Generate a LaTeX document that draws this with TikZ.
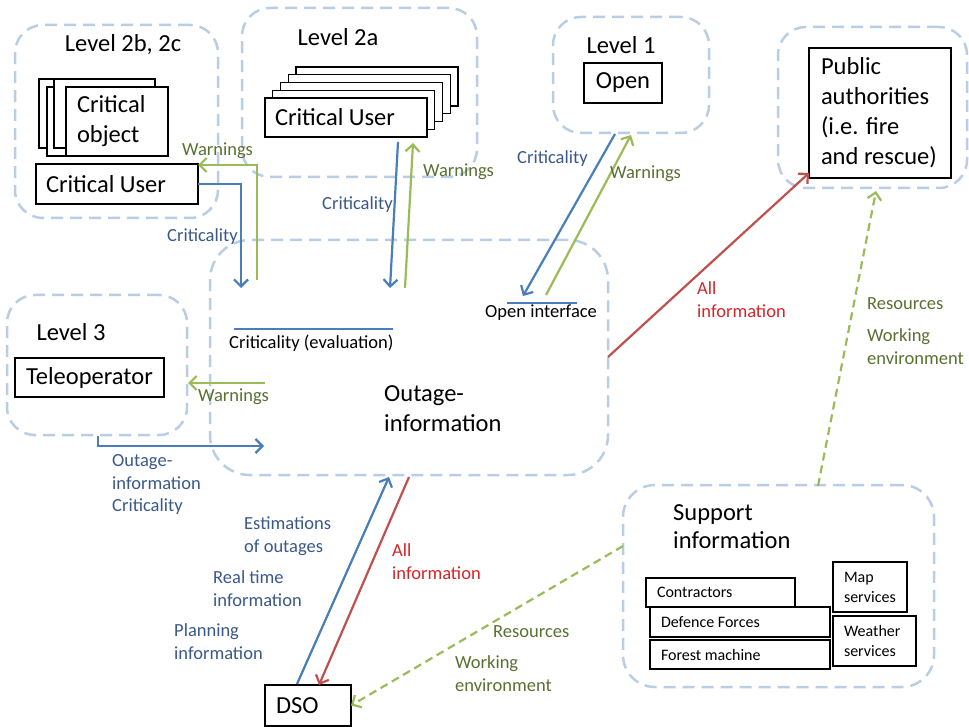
\documentclass[tikz,border=0pt]{standalone}
\usepackage{fontspec}
\setmainfont{Carlito}
\usetikzlibrary{arrows.meta}
\definecolor{dashblue}{RGB}{185,205,229}
\definecolor{lblue}{RGB}{74,126,187}
\definecolor{lgreen}{RGB}{155,187,89}
\definecolor{lred}{RGB}{192,80,77}
\definecolor{tblue}{RGB}{58,88,138}
\definecolor{tgreen}{RGB}{88,112,48}
\definecolor{tred}{RGB}{212,36,40}
\begin{document}
\begin{tikzpicture}[x=1pt,y=-1pt,
 dbox/.style={draw=dashblue, line width=2.5pt, dash pattern=on 12pt off 7pt, rounded corners=28pt, inner sep=0pt},
 blk/.style={draw=black, line width=1.3pt, fill=white, inner sep=0pt, outer sep=0pt},
 bigf/.style={font=\fontsize{24.5}{30}\selectfont},
 labf/.style={font=\fontsize{18.5}{23}\selectfont, inner sep=0pt, align=flush left},
 smallf/.style={font=\fontsize{16}{20}\selectfont},
 txt/.style={inner sep=0pt, align=flush left},
 arr/.style={line width=2.2pt, -{Straight Barb[length=7pt,width=14pt]}},
 barr/.style={arr, draw=lblue},
 garr/.style={arr, draw=lgreen},
 rarr/.style={arr, draw=lred},
 gdash/.style={arr, draw=lgreen, dash pattern=on 8pt off 5pt},
 bluetxt/.style={labf, text=tblue},
 greentxt/.style={labf, text=tgreen},
 redtxt/.style={labf, text=tred},
]
\useasboundingbox (0,0) rectangle (969,727);

% dashed group boxes
\node[dbox, minimum width=203, minimum height=193] (g2b) at (116.5,121.5) {};
\node[dbox, minimum width=235, minimum height=169] (g2a) at (359.5,92.5) {};
\node[dbox, minimum width=156, minimum height=116] (g1) at (631,75) {};
\node[dbox, minimum width=189, minimum height=161] (gpa) at (872.5,107.5) {};
\node[dbox, minimum width=180, minimum height=140] (g3) at (97,365) {};
\node[dbox, minimum width=398, minimum height=235, rounded corners=40pt] (gout) at (409,357.5) {};
\node[dbox, minimum width=311, minimum height=202, rounded corners=32pt] (gsup) at (778.5,586) {};

% group titles
\node[bigf, txt] (t2b) at (123,45) {Level 2b, 2c};
\node[bigf, txt] (t2a) at (338,37) {Level 2a};
\node[bigf, txt] (t1) at (621,45) {Level 1};
\node[bigf, txt] (t3) at (71,332) {Level 3};
\node[bigf, txt, anchor=west] (tout) at (384,409) {Outage-\\information};
\node[bigf, txt, anchor=west, font=\fontsize{24.5}{28}\selectfont] (tsup) at (673,527) {Support\\information};

% Critical object stack
\node[blk, minimum width=103, minimum height=69] (co1) at (90.5,113.5) {};
\node[blk, minimum width=103, minimum height=69] (co2) at (98.5,121.5) {};
\node[blk, minimum width=101, minimum height=69] (co3) at (104.5,113.5) {};
\node[blk, bigf, minimum width=102, minimum height=69, inner xsep=11pt, text width=80pt, align=flush left] (co) at (117,121.5) {Critical\\object};

% Critical User (2b)
\node[blk, bigf, minimum width=162, minimum height=40, inner xsep=10pt, text width=142pt, align=flush left] (cu2b) at (117,184) {Critical User};

% Critical User stack (2a)
\foreach \k in {4,3,2,1}{
  \node[blk, minimum width=162, minimum height=39] (cu2a\k) at ({346+7.75*\k},{117.5-7.75*\k}) {};
}
\node[blk, bigf, minimum width=162, minimum height=39, inner xsep=10pt, text width=142pt, align=flush left] (cu2a) at (346,117.5) {Critical User};

% Open
\node[blk, bigf, minimum width=78, minimum height=40] (open) at (623,83) {Open};

% Public authorities
\node[blk, bigf, minimum width=142, minimum height=130, inner xsep=12pt, text width=118pt, align=flush left] (pa) at (880,113) {Public\\authorities\\(i.e. fire\\and rescue)};

% Teleoperator
\node[blk, bigf, minimum width=149, minimum height=39] (tele) at (89.5,377.5) {Teleoperator};

% DSO
\node[blk, bigf, minimum width=86, minimum height=41, inner xsep=11pt, text width=64pt, align=flush left] (dso) at (308,705.5) {DSO};

% Support boxes
\node[blk, smallf, minimum width=149, minimum height=29, inner xsep=11pt, text width=127pt, align=flush left] (contr) at (720.5,592.5) {Contractors};
\node[blk, smallf, minimum width=180, minimum height=30, inner xsep=11pt, text width=158pt, align=flush left] (def) at (740,622) {Defence Forces};
\node[blk, smallf, minimum width=180, minimum height=29, inner xsep=11pt, text width=158pt, align=flush left] (forest) at (740,654.5) {Forest machine};
\node[blk, smallf, minimum width=74, minimum height=50, inner xsep=11pt, text width=52pt, align=flush left] (map) at (870,587) {Map\\services};
\node[blk, smallf, minimum width=83, minimum height=50, inner xsep=11pt, text width=61pt, align=flush left] (weather) at (874.5,641) {Weather\\services};

% interface lines
\coordinate (ce1) at (234,329);
\coordinate (ce2) at (393,329);
\draw[lblue, line width=2pt] (ce1) -- (ce2);
\node[labf, anchor=west] (cev) at (229,343) {Criticality (evaluation)};
\coordinate (oi1) at (507,303);
\coordinate (oi2) at (577,303);
\draw[lblue, line width=2pt] (oi1) -- (oi2);
\node[labf, anchor=west] (oil) at (485,313) {Open interface};

% coordinates for connector ends
\coordinate (w2b0) at (257,280);
\coordinate (c2b1) at (241,288);
\coordinate (c2a0) at (398,142);
\coordinate (c2a1) at (390,288);
\coordinate (w2a0) at (405,288);
\coordinate (w2a1) at (413,143);
\coordinate (c10) at (615,134);
\coordinate (c11) at (523,296);
\coordinate (w10) at (546,295);
\coordinate (w11) at (631,135);
\coordinate (ai0) at (608,357);
\coordinate (ai1) at (809,173);
\coordinate (rp0) at (818,486);
\coordinate (rp1) at (876,191);
\coordinate (w30) at (265,383);
\coordinate (w31) at (188,383);
\coordinate (o30) at (98,436);
\coordinate (o31) at (264,446);
\coordinate (d0) at (297,684);
\coordinate (d1) at (389,477);
\coordinate (r0) at (409,477);
\coordinate (r1) at (319,685);
\coordinate (rd0) at (623,546);

% connectors
\draw[garr] (w2b0) |- ([yshift=-1pt]cu2b.north east);
\draw[barr] (cu2b.east) -| (c2b1);
\draw[barr] (c2a0) -- (c2a1);
\draw[garr] (w2a0) -- (w2a1);
\draw[barr] (c10) -- (c11);
\draw[garr] (w10) -- (w11);
\draw[rarr] (ai0) -- (ai1);
\draw[gdash] (rp0) -- (rp1);
\draw[garr] (w30) -- (w31);
\draw[barr] (o30) |- (o31);
\draw[barr] (d0) -- (d1);
\draw[rarr] (r0) -- (r1);
\draw[gdash] (rd0) -- (dso.east);

% connector labels
\node[greentxt, anchor=west] (lw2b) at (182,151) {Warnings};
\node[bluetxt, anchor=west] (lc2b) at (167,237) {Criticality};
\node[bluetxt, anchor=west] (lc2a) at (322,205) {Criticality};
\node[greentxt, anchor=west] (lw2a) at (423,172) {Warnings};
\node[bluetxt, anchor=west] (lc1) at (517,159) {Criticality};
\node[greentxt, anchor=west] (lw1) at (610,174) {Warnings};
\node[redtxt, anchor=west] (lai) at (697,300) {All\\information};
\node[greentxt, anchor=west] (lrp1) at (867,304) {Resources};
\node[greentxt, anchor=west] (lrp2) at (867,346.5) {Working\\environment};
\node[greentxt, anchor=west] (lw3) at (198,397) {Warnings};
\node[bluetxt, anchor=west, font=\fontsize{18.5}{22.5}\selectfont] (lo3) at (112,484.5) {Outage-\\information\\Criticality};
\node[bluetxt, anchor=west] (ld1) at (244,536.5) {Estimations\\of outages};
\node[bluetxt, anchor=west] (ld2) at (213,588.5) {Real time\\information};
\node[bluetxt, anchor=west] (ld3) at (174,642) {Planning\\information};
\node[redtxt, anchor=west] (lr) at (392,561.5) {All\\information};
\node[greentxt, anchor=west] (lrd1) at (493,632) {Resources};
\node[greentxt, anchor=west] (lrd2) at (455,673.5) {Working\\environment};
\end{tikzpicture}
\end{document}
